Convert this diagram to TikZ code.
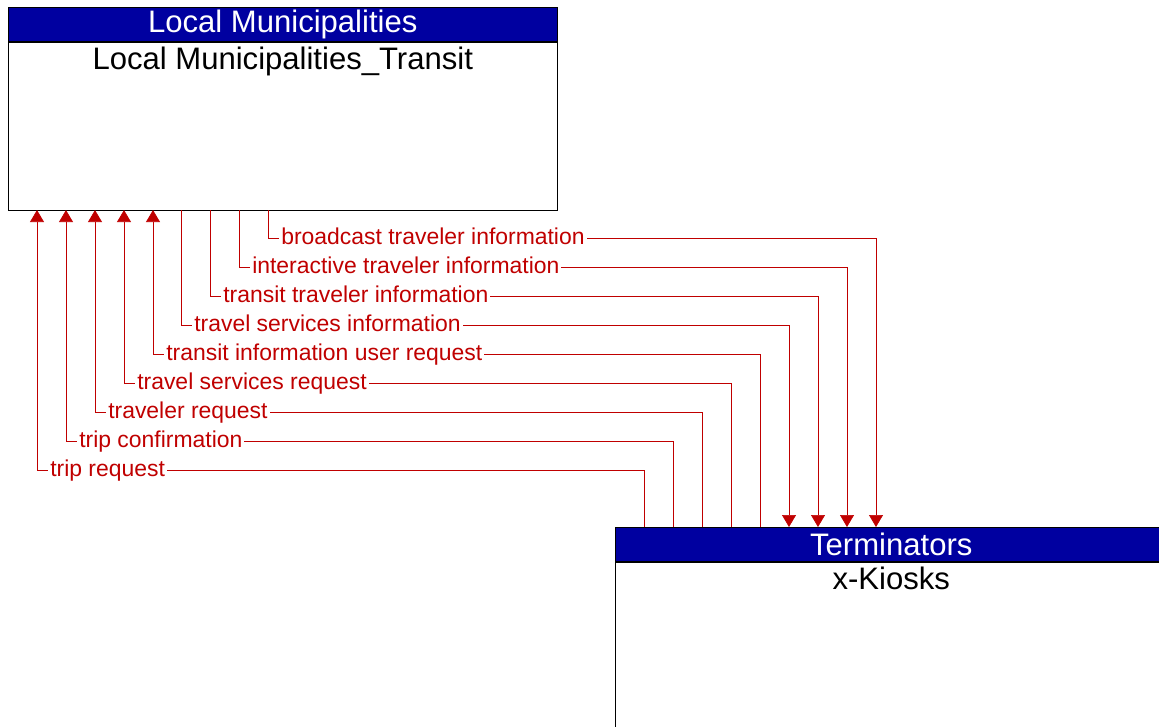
\documentclass[tikz,border=0pt]{standalone}
\usepackage{fontspec}
\setmainfont{Liberation Sans}
\usetikzlibrary{arrows.meta, positioning}
\definecolor{headblue}{RGB}{0,0,160}
\definecolor{flowred}{RGB}{192,0,0}

\begin{document}
\begin{tikzpicture}[
  x=0.75pt, y=-0.75pt,
  head/.style={draw=black, fill=headblue, text=white, minimum width=411.75pt, minimum height=25.5pt, inner sep=0pt, anchor=north west, font=\fontsize{23.3}{26}\selectfont},
  body/.style={draw=black, fill=white, minimum width=411.75pt, minimum height=126pt, inner sep=0pt},
  title/.style={inner sep=0pt, font=\fontsize{23.3}{26}\selectfont},
  arr/.style={draw=flowred, line width=0.5pt, -{Triangle[length=9pt, width=10.5pt]}},
  lbl/.style={fill=white, text=flowred, inner sep=1.5pt, anchor=west, text height=12.5pt, text depth=3pt, font=\fontsize{17.2}{20}\selectfont}
]
\useasboundingbox (0,0) rectangle (1159,727);
\clip (0,0) rectangle (1159,727);
\node[head] (lmhead) at (8,7) {Local Municipalities};
\node[body, below=0pt of lmhead] (lmbox) {};
\node[title, below=3.75pt of lmbox.north] (lmname) {Local Municipalities\_Transit};
\node[head, minimum width=414pt] (tkhead) at (615,527) {Terminators};
\node[body, minimum width=414pt, below=0pt of tkhead] (tkbox) {};
\node[title, below=3.75pt of tkbox.north] (tkname) {x-Kiosks};
% flows into the transit centre
\foreach \txt/\xa/\xb/\yy [count=\i] in {trip request/37/644/470, trip confirmation/66/673/441, traveler request/95/702/412, travel services request/124/731/383, transit information user request/153/760/354}{
  \draw[arr] (tkhead.north -| \xb,0) -- (\xb,\yy) -- (\xa,\yy) -- (lmbox.south -| \xa,0);
  \node[lbl] (up\i) at (\xa+11,\yy) {\txt};
}
% flows out to the kiosks
\foreach \txt/\xa/\xb/\yy [count=\i] in {travel services information/181/789/325, transit traveler information/210/818/296, interactive traveler information/239/847/267, broadcast traveler information/268/876/238}{
  \draw[arr] (lmbox.south -| \xa,0) -- (\xa,\yy) -- (\xb,\yy) -- (tkhead.north -| \xb,0);
  \node[lbl] (down\i) at (\xa+11,\yy) {\txt};
}
\end{tikzpicture}
\end{document}
